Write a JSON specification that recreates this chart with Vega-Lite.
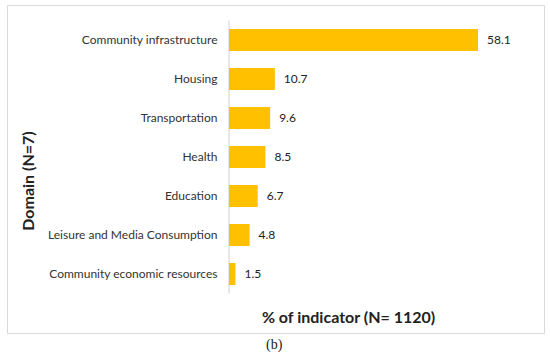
{
  "$schema": "https://vega.github.io/schema/vega-lite/v6.json",
  "width": 537,
  "height": 328,
  "autosize": {"type": "none"},
  "padding": {"left": 7, "top": 5, "right": 6, "bottom": 25},
  "background": "white",
  "config": {"view": {"stroke": "#d9d9d9", "strokeWidth": 1}, "font": "Lato"},
  "title": {"text": "(b)", "orient": "bottom", "anchor": "start", "frame": "group", "dx": 259, "offset": 5, "font": "Liberation Serif", "fontSize": 14, "fontWeight": "normal", "color": "#222"},
  "data": {"values": [
    {"domain": "Community infrastructure", "pct": 58.1},
    {"domain": "Housing", "pct": 10.7},
    {"domain": "Transportation", "pct": 9.6},
    {"domain": "Health", "pct": 8.5},
    {"domain": "Education", "pct": 6.7},
    {"domain": "Leisure and Media Consumption", "pct": 4.8},
    {"domain": "Community economic resources", "pct": 1.5}
  ]},
  "encoding": {
    "y": {
      "field": "domain", "type": "nominal", "sort": null,
      "scale": {"paddingInner": 0.436, "paddingOuter": 0.923, "align": 0.333},
      "axis": {
        "title": "Domain (N=7)", "offset": -222, "domain": false, "ticks": false, "grid": false,
        "labelPadding": 12, "labelFontSize": 12, "labelFont": "Lato", "labelColor": "#333", "labelLimit": 300,
        "titleFont": "Lato", "titleFontSize": 16, "titleFontWeight": "bold", "titleColor": "#222",
        "titleX": -201, "titleY": 175.5, "titleAlign": "center", "titleBaseline": "middle", "titleAngle": -90
      }
    },
    "x": {
      "field": "pct", "type": "quantitative",
      "scale": {"domain": [-51.8, 73.5], "nice": false, "zero": false},
      "axis": {
        "title": "% of indicator (N= 1120)", "labels": false, "ticks": false, "domain": false, "grid": false,
        "titleFont": "Lato", "titleFontSize": 16, "titleFontWeight": "bold", "titleColor": "#222",
        "titleX": 341, "titleY": -16, "titleAlign": "center", "titleBaseline": "middle"
      }
    }
  },
  "layer": [
    {
      "mark": {"type": "tick", "color": "#d0d0d0", "thickness": 1, "size": 39, "opacity": 1},
      "encoding": {"x": {"datum": 0, "type": "quantitative"}}
    },
    {
      "mark": {"type": "bar", "color": "#FFC000"}
    },
    {
      "mark": {"type": "text", "align": "left", "baseline": "middle", "dx": 9, "font": "Lato", "fontSize": 12, "color": "#222"},
      "encoding": {"text": {"field": "pct", "type": "quantitative", "format": ".1f"}}
    }
  ]
}
